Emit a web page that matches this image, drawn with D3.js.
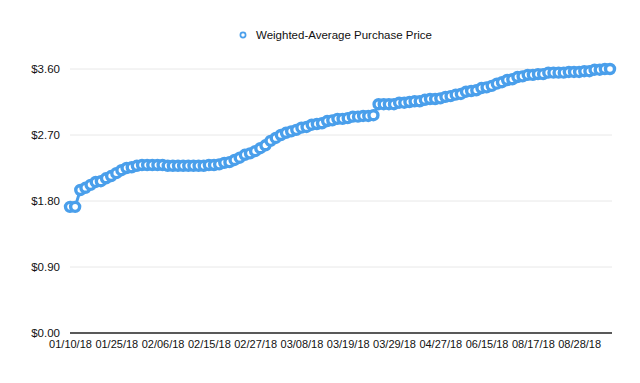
<!DOCTYPE html>
<html>
<head>
<meta charset="utf-8">
<script src="https://cdn.jsdelivr.net/npm/d3@7"></script>
<style>
  html, body { margin: 0; padding: 0; background: #fff; }
  svg { display: block; font-family: "Liberation Sans", Arial, Helvetica, sans-serif; }
</style>
</head>
<body>
<svg id="chart" width="640" height="383"></svg>
<script>
const seriesName = "Weighted-Average Purchase Price";
const tickLabels = ["01/10/18","01/25/18","02/06/18","02/15/18","02/27/18","03/08/18",
                    "03/19/18","03/29/18","04/27/18","06/15/18","08/17/18","08/28/18"];
const prices = [
  1.72,1.72,1.95,1.98,2.02,2.06,2.07,2.11,2.14,2.18,
  2.22,2.25,2.26,2.28,2.29,2.29,2.29,2.29,2.29,2.28,
  2.28,2.28,2.28,2.28,2.28,2.28,2.28,2.29,2.29,2.30,
  2.32,2.33,2.36,2.39,2.43,2.45,2.48,2.52,2.56,2.62,
  2.66,2.70,2.73,2.75,2.77,2.80,2.81,2.84,2.85,2.86,
  2.89,2.90,2.92,2.92,2.93,2.95,2.95,2.96,2.96,2.97,
  3.12,3.12,3.12,3.12,3.14,3.14,3.15,3.16,3.16,3.18,
  3.19,3.19,3.20,3.22,3.23,3.25,3.26,3.29,3.30,3.31,
  3.34,3.35,3.37,3.40,3.42,3.45,3.46,3.49,3.50,3.52,
  3.52,3.53,3.53,3.55,3.55,3.55,3.55,3.56,3.56,3.56,
  3.57,3.57,3.59,3.59,3.60,3.60
];
const yTicks = [0, 0.9, 1.8, 2.7, 3.6];
const labelEvery = 9;

const svg = d3.select("#chart");
const blue = "#4A9FEB";
const mLeft = 70, mRight = 610, mTop = 69, mBottom = 333;

const x = d3.scalePoint().domain(d3.range(prices.length)).range([mLeft, mRight]);
const y = d3.scaleLinear().domain([0, 3.6]).range([mBottom, mTop]);

// gridlines
svg.append("g").selectAll("line").data(yTicks.filter(d => d > 0)).join("line")
  .attr("x1", mLeft).attr("x2", mRight + 2)
  .attr("y1", d => y(d)).attr("y2", d => y(d))
  .attr("stroke", "#e8e8e8").attr("stroke-width", 1);

// y axis labels
const yAxis = d3.axisLeft(y).tickValues(yTicks).tickSize(0).tickPadding(10)
  .tickFormat(d => "$" + d.toFixed(2));
const gy = svg.append("g").attr("transform", `translate(${mLeft},0)`).call(yAxis);
gy.select(".domain").remove();
gy.selectAll("text").attr("font-size", 11.5).attr("fill", "#111")
  .attr("font-family", "Liberation Sans, Arial, sans-serif");

// x axis
const xAxis = d3.axisBottom(x)
  .tickValues(d3.range(0, prices.length, labelEvery))
  .tickSize(0).tickPadding(7)
  .tickFormat(i => tickLabels[i / labelEvery]);
const gx = svg.append("g").attr("transform", `translate(0,${mBottom})`).call(xAxis);
gx.select(".domain").remove();
gx.selectAll("text").attr("font-size", 11).attr("fill", "#111")
  .attr("font-family", "Liberation Sans, Arial, sans-serif");
svg.append("line").attr("x1", mLeft).attr("x2", mRight + 2)
  .attr("y1", mBottom).attr("y2", mBottom).attr("stroke", "#222").attr("stroke-width", 1.3);

// line
svg.append("path").datum(prices)
  .attr("fill", "none").attr("stroke", blue).attr("stroke-width", 3)
  .attr("d", d3.line().x((d, i) => x(i)).y(d => y(d)));

// markers
svg.append("g").selectAll("circle").data(prices).join("circle")
  .attr("cx", (d, i) => x(i)).attr("cy", d => y(d))
  .attr("r", 4.5).attr("fill", "#fff").attr("stroke", blue).attr("stroke-width", 3.4);

// legend
const lg = svg.append("g").attr("transform", "translate(243,35)");
lg.append("circle").attr("r", 2.6).attr("fill", "#fff").attr("stroke", blue).attr("stroke-width", 1.7);
lg.append("text").attr("x", 13).attr("y", 4).attr("font-size", 11.5).attr("fill", "#111")
  .text(seriesName);
</script>
</body>
</html>
